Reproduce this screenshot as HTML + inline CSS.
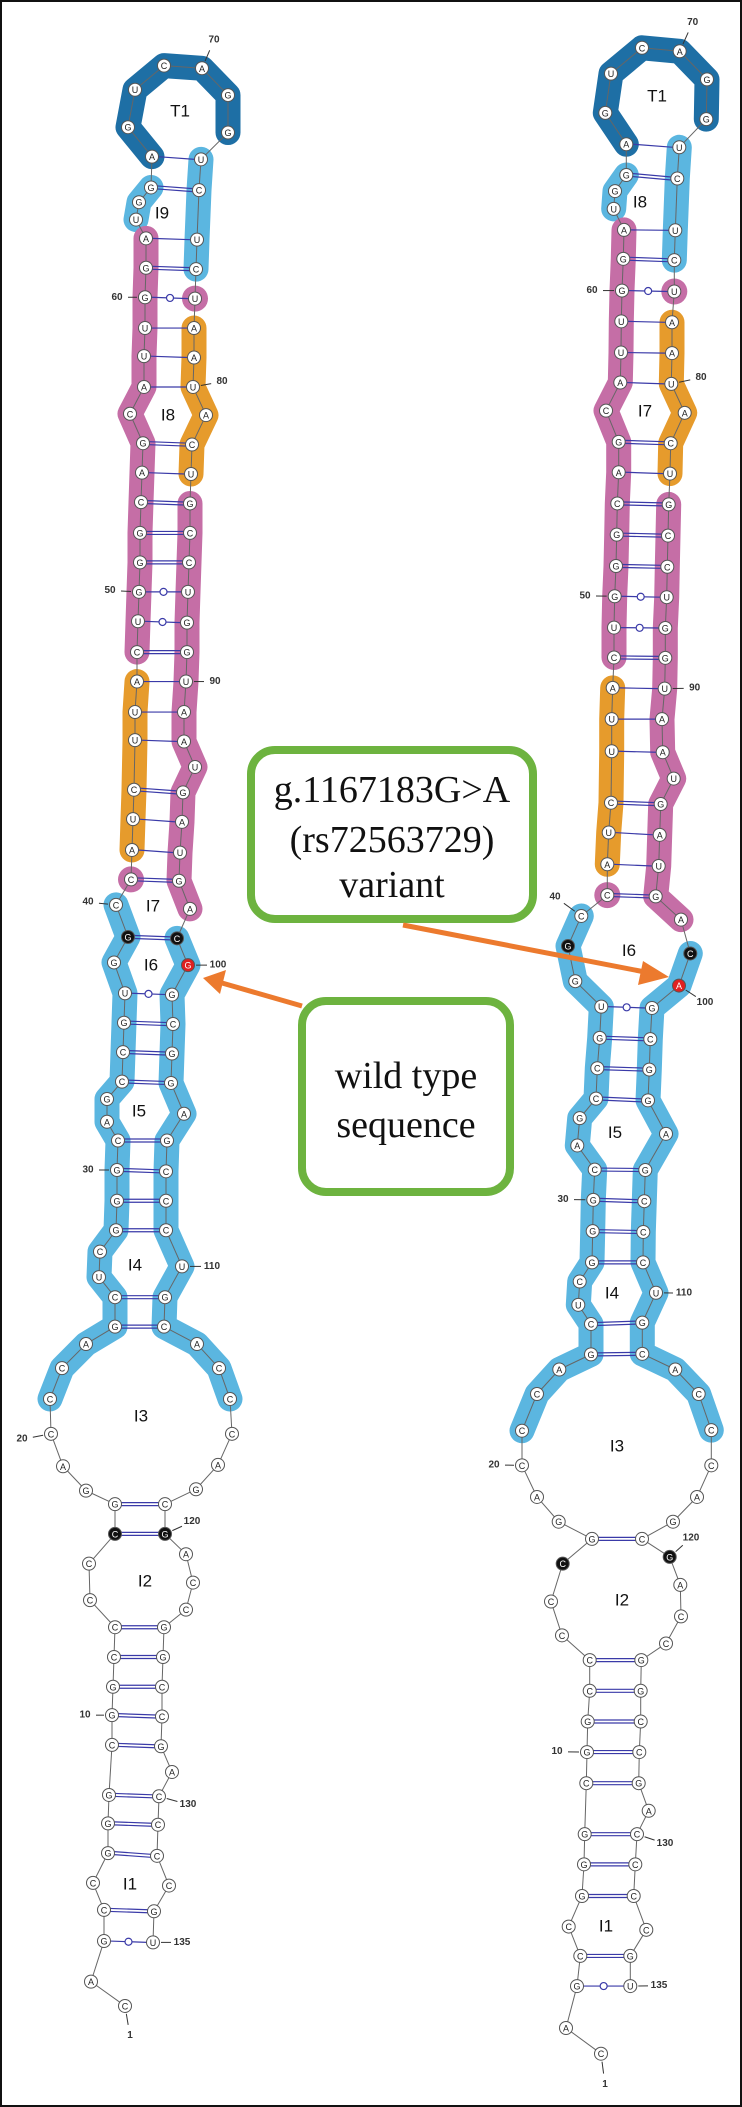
<!DOCTYPE html>
<html><head><meta charset="utf-8">
<style>
html,body{margin:0;padding:0;background:#fff;}
svg{display:block;}
.nt{font-family:"Liberation Sans",sans-serif;font-size:9px;text-anchor:middle;dominant-baseline:central;fill:#222;}
.rg{font-family:"Liberation Sans",sans-serif;font-size:17px;text-anchor:middle;dominant-baseline:central;fill:#111;}
.nm{font-family:"Liberation Sans",sans-serif;font-size:10px;font-weight:bold;text-anchor:middle;dominant-baseline:central;fill:#333;}
.bx{font-family:"Liberation Serif",serif;font-size:38px;text-anchor:middle;fill:#111;}
</style></head>
<body>
<svg id="s" width="742" height="2107" viewBox="0 0 742 2107" xmlns="http://www.w3.org/2000/svg">
<rect x="1" y="1" width="740" height="2105" fill="#fff" stroke="#111" stroke-width="2"/>
<g id="bands"></g><g id="lines"></g><g id="nodes"></g><g id="labs"></g>
<!-- boxes -->
<rect x="251" y="750" width="282" height="169" rx="24" fill="#fff" stroke="#6db33f" stroke-width="8"/>
<text class="bx" x="392" y="802">g.1167183G&gt;A</text>
<text class="bx" x="392" y="852">(rs72563729)</text>
<text class="bx" x="392" y="897">variant</text>
<rect x="302" y="1001" width="208" height="191" rx="24" fill="#fff" stroke="#6db33f" stroke-width="8"/>
<text class="bx" x="406" y="1088">wild type</text>
<text class="bx" x="406" y="1137">sequence</text>
<!-- arrows -->
<line x1="302" y1="1006" x2="222" y2="983" stroke="#ec7a2e" stroke-width="5"/>
<polygon points="203,978 226,970 220,994" fill="#ec7a2e"/>
<line x1="403" y1="925" x2="645" y2="972" stroke="#ec7a2e" stroke-width="5"/>
<polygon points="669,977 643,961 638,985" fill="#ec7a2e"/>
</svg>
<script>
var SEQ="CAGCCGGGCG"+"GCCCCCGGAC"+"CCAGCUCGGG"+"CAGCCGUGGC"+"CAUCUUACUG"+"GGCAGCAUUG"+"GAUGGAGUCA"+"GGUCUCUAAU"+"ACUGCCUGGU"+"AAUGAUGACG"+"GCGGAGCCCU"+"GCACCCAGCG"+"ACCGGCCGAC"+"CCCGU";
function T(y){ if(y<600) return y*1.339; if(y<1390) return 700+(y-700)*1.339; return 1400+(y-1400)*1.3526;}
var L=[null,[125,1848],[91,1830],[104,1800],[104,1777],[93,1757],[108,1735],[108,1713],[109,1692],[112,1655],[112,1633],
[113,1612],[114,1590],[115,1568],[90,1548],[89,1521],[115,1499],[115,1477],[86,1467],[63,1449],[51,1425],
[50,1222],[62,1199],[86,1181],[115,1168],[115,1146],[99,1131],[100,1112],[116,1096],[117,1074],[117,1051],
[118,1029],[107,1015],[107,998],[122,985],[123,963],[124,941],[125,919],[114,896],[128,877],[116,853],
[131,834],[132,812],[133,789],[134,767],[135,730],[135,709],[137,509],[137,487],[138,464],[139,442],
[140,420],[140,398],[141,375],[142,353],[143,331],[130,309],[144,289],[144,266],[145,245],[145,222],
[146,200],[146,178],[136,164],[139,151],[151,140],[152,117],[128,95],[135,67],[164,49],[202,51],
[228,71],[228,99],[201,119],[199,142],[197,179],[196,201],[195,223],[194,245],[194,267],[193,289],
[206,310],[192,332],[191,354],[190,376],[190,398],[189,420],[188,442],[187,465],[187,487],[186,509],
[184,709],[184,731],[195,750],[183,769],[182,791],[180,814],[179,835],[190,856],[177,878],[188,898],
[172,920],[173,942],[172,964],[171,986],[184,1009],[167,1029],[166,1052],[166,1074],[166,1096],[182,1123],
[165,1146],[164,1168],[197,1181],[219,1199],[230,1222],[232,1425],[218,1448],[196,1466],[165,1477],[165,1499],
[186,1514],[193,1535],[186,1555],[164,1568],[163,1590],[162,1612],[162,1634],[161,1656],[172,1675],[159,1693],
[158,1714],[157,1737],[169,1759],[154,1778],[153,1801]];
var R=[null,[601,1883.3],[566,1864.3],[577,1833.3],[580.3,1811],[568.7,1789.3],[582,1766.7],[584,1743.3],[584.7,1721],[586.3,1683.3],[587,1660.3],
[587.7,1637.7],[589.7,1615],[589.7,1592.3],[562,1574],[551,1549],[562.7,1521],[592,1502.7],[558.7,1490],[537,1471.7],[522,1448.3],
[522,1422.7],[537,1218.3],[559.3,1200],[591,1188.7],[591,1166],[578.3,1151.7],[579.7,1134.3],[592,1120],[592.7,1096.7],[593.3,1073.3],
[594.7,1050.7],[577.3,1032.7],[579.7,1012.3],[596,997.7],[597.3,975],[599.7,952.3],[601.3,929],[575.3,910],[568,883.7],[581.3,861.3],
[607.3,845.7],[607.3,822.7],[608.7,799],[611,776.7],[611.7,738.3],[611.7,714.3],[612.7,513.7],[614,491],[614,468.7],[614.7,445.3],
[616,422.7],[616.7,399.3],[617.3,376],[618.7,352.7],[618.7,330],[606,306.7],[620.3,285.7],[621,263.3],[621.3,240],[622,217],
[623.3,193.3],[624,171.7],[613.7,156],[615,142.7],[626.3,130.7],[626.3,107.7],[605.3,84.3],[611,55],[642,35.7],[679.7,38.3],
[707,59.3],[706.3,89],[679.3,110],[677.3,133.3],[675.3,172],[674.3,194.3],[674.3,217.7],[672,240.7],[672,263.7],[671.3,286.7],
[684.7,308.3],[670.7,331],[670,353.7],[668.7,376.7],[668,400],[667.3,423.3],[666.7,446],[665.3,469],[665.3,491.3],[664.7,514.3],
[662,714.3],[662.7,739],[673.7,758.7],[660.7,777.7],[659.7,800.7],[658.7,824],[655.7,846.7],[681,864],[690.3,889.3],[679,913.3],
[652,930],[650.3,953.3],[649.3,976],[648,999],[666,1024],[645.3,1051],[644.3,1074.3],[643.3,1097.3],[643,1120],[656,1142.7],
[642.3,1165],[642.3,1188.3],[675.3,1200],[698.7,1218.3],[711.3,1422.3],[711.3,1448.3],[697,1471.7],[673,1490],[642,1502.7],[669.7,1516],
[680.3,1536.7],[681,1560],[666,1580],[641.3,1592.3],[640.7,1615],[640.7,1637.7],[639.3,1660.3],[638.7,1683.3],[648.7,1703.7],[637,1721],
[635.3,1743.3],[633.7,1766.7],[646.3,1791.7],[630.3,1811],[630.3,1833.3]];
var PAIRS=[[66,73],[65,74],[62,75],[61,76],[60,77],[59,78],[58,79],[57,80],[55,82],[54,83],[53,84],[52,85],[51,86],[50,87],[49,88],[48,89],[47,90],[46,91],[45,92],[44,94],[43,95],[42,96],[41,97],[39,99],[37,101],[36,102],[35,103],[34,104],[31,106],[30,107],[29,108],[28,109],[25,111],[24,112],[17,119],[16,120],[13,124],[12,125],[11,126],[10,127],[9,128],[8,130],[7,131],[6,132],[4,134],[3,135]];
var NS="http://www.w3.org/2000/svg";
function el(p,t,a,txt){var e=document.createElementNS(NS,t);for(var k in a)e.setAttribute(k,a[k]);if(txt!=null)e.textContent=txt;document.getElementById(p).appendChild(e);return e;}
var COL={d:"#1e6fa5",l:"#5bb6e0",p:"#c56ea6",o:"#e69b2c"};
function draw(C,isR,regions,nums){
  var P=[null];for(var i=1;i<=135;i++)P.push([C[i][0],T(C[i][1])]);
  var seq=SEQ.split("");seq.unshift(null); if(isR) seq[100]="A";
  var bands=[["d",66,72],["l",63,65],["l",73,76],["l",21,40],["l",99,115],["p",48,62],["p",77,77],["p",84,98],["p",41,41],["o",42,47],["o",78,83]];
  bands.forEach(function(b){
    if(b[1]==b[2]){el("bands","circle",{cx:P[b[1]][0],cy:P[b[1]][1],r:13,fill:COL[b[0]]});return;}
    var pts=[];for(var i=b[1];i<=b[2];i++)pts.push(P[i][0]+","+P[i][1]);
    el("bands","polyline",{points:pts.join(" "),fill:"none",stroke:COL[b[0]],"stroke-width":25,"stroke-linejoin":"round","stroke-linecap":"round"});
  });
  for(var i=1;i<135;i++)el("lines","line",{x1:P[i][0],y1:P[i][1],x2:P[i+1][0],y2:P[i+1][1],stroke:"#666","stroke-width":1});
  PAIRS.forEach(function(p){
    var a=p[0],b=p[1]; if(isR&&((a==39&&b==99)||(a==16&&b==120)))return;
    var s=seq[a]+seq[b],x1=P[a][0]+6,y1=P[a][1],x2=P[b][0]-6,y2=P[b][1];
    if(s=="GC"||s=="CG"){
      el("lines","line",{x1:x1,y1:y1-1.5,x2:x2,y2:y2-1.5,stroke:"#3a3aa8","stroke-width":1.2});
      el("lines","line",{x1:x1,y1:y1+1.5,x2:x2,y2:y2+1.5,stroke:"#3a3aa8","stroke-width":1.2});
    } else if(s=="GU"||s=="UG"){
      el("lines","line",{x1:x1,y1:y1,x2:x2,y2:y2,stroke:"#3a3aa8","stroke-width":1.2});
      el("lines","circle",{cx:(x1+x2)/2,cy:(y1+y2)/2,r:3.5,fill:"#fff",stroke:"#3a3aa8","stroke-width":1.2});
    } else el("lines","line",{x1:x1,y1:y1,x2:x2,y2:y2,stroke:"#3a3aa8","stroke-width":1.2});
  });
  for(var i=1;i<=135;i++){
    var f="#fff",tc="#222";
    if(i==39||i==99||i==16||i==120){f="#111";tc="#fff";}
    if(i==100){f="#e02020";tc="#fff";}
    el("nodes","circle",{cx:P[i][0],cy:P[i][1],r:6.5,fill:f,stroke:"#555","stroke-width":1});
    el("nodes","text",{"class":"nt",x:P[i][0],y:P[i][1]+0.5,fill:tc,style:"fill:"+tc},seq[i]);
  }
  regions.forEach(function(r){el("labs","text",{"class":"rg",x:r[1],y:T(r[2])},r[0]);});
  nums.forEach(function(n){
    var lx=n[1],ly=T(n[2]),q=P[n[0]],dx=lx-q[0],dy=ly-q[1],d=Math.sqrt(dx*dx+dy*dy);dx/=d;dy/=d;
    el("labs","line",{x1:q[0]+dx*8,y1:q[1]+dy*8,x2:q[0]+dx*(d-11),y2:q[1]+dy*(d-11),stroke:"#333","stroke-width":1});
    el("labs","text",{"class":"nm",x:lx,y:ly},n[3]);
  });
}
draw(L,false,
 [["T1",180,83],["I9",162,159],["I8",168,310],["I7",153,854],["I6",151,898],["I5",139,1007],["I4",135,1122],["I3",141,1412],["I2",145,1534],["I1",130,1758]],
 [[70,214,30,"70"],[60,117,222,"60"],[80,222,285,"80"],[50,110,441,"50"],[90,215,509,"90"],[40,88,851,"40"],[100,218,898,"100"],[30,88,1051,"30"],[110,212,1123,"110"],[20,22,1429,"20"],[120,192,1490,"120"],[10,85,1633,"10"],[130,188,1699,"130"],[135,182,1801,"135"],[1,130,1870,"1"]]);
draw(R,true,
 [["T1",657,71.7],["I8",640,150.7],["I7",645,307],["I6",629,887],["I5",615,1023],["I4",612,1143],["I3",617,1434],["I2",622,1548],["I1",606,1789]],
 [[70,692.7,16.7,"70"],[60,592,217,"60"],[80,701,282,"80"],[50,585,445,"50"],[90,694.7,514,"90"],[40,555,847,"40"],[100,705,926,"100"],[30,563,1073,"30"],[110,684,1143,"110"],[20,494,1448,"20"],[120,691,1502,"120"],[10,557,1660,"10"],[130,665,1728,"130"],[135,659,1833,"135"],[1,605,1906,"1"]]);
</script>
</body></html>
